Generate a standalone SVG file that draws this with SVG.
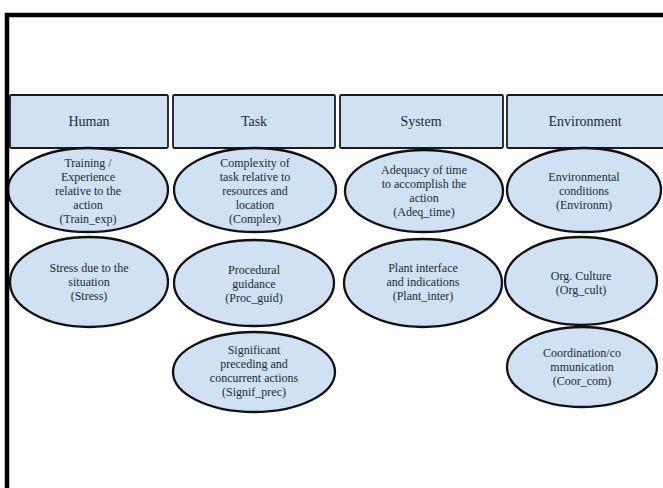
<svg xmlns="http://www.w3.org/2000/svg" width="663" height="488" viewBox="0 0 663 488">
<style>
.hdr{fill:#cfe1f2;stroke:#1a1a1a;stroke-width:1.8}
.el{fill:#cfe1f2;stroke:#111;stroke-width:2.3}
.ht{font-family:"Liberation Serif","Times New Roman",serif;font-size:14px;fill:#222a36;text-anchor:middle}
.t{font-family:"Liberation Serif","Times New Roman",serif;font-size:12px;fill:#222a36;text-anchor:middle}
</style>
<rect x="0" y="0" width="663" height="488" fill="#ffffff"/>
<g id="hdr-human"><rect class="hdr" x="10" y="95" width="158" height="53" rx="1.5"/><text class="ht" x="89" y="126">Human</text></g>
<g id="hdr-task"><rect class="hdr" x="173" y="95" width="162" height="53" rx="1.5"/><text class="ht" x="254" y="126">Task</text></g>
<g id="hdr-system"><rect class="hdr" x="340" y="95" width="163" height="53" rx="1.5"/><text class="ht" x="421" y="126">System</text></g>
<g id="hdr-environment"><rect class="hdr" x="507" y="95" width="170" height="53" rx="1.5"/><text class="ht" x="585" y="126">Environment</text></g>
<g id="connectors"></g>
<g id="train_exp"><ellipse class="el" cx="88" cy="190" rx="80" ry="42"/>
<text class="t" x="88" y="167">Training /</text><text class="t" x="88" y="181">Experience</text><text class="t" x="88" y="195">relative to the</text><text class="t" x="88" y="209">action</text><text class="t" x="88" y="223">(Train_exp)</text></g>
<g id="complex"><ellipse class="el" cx="255" cy="190" rx="81" ry="42"/>
<text class="t" x="255" y="167">Complexity of</text><text class="t" x="255" y="181">task relative to</text><text class="t" x="255" y="195">resources and</text><text class="t" x="255" y="209">location</text><text class="t" x="255" y="223">(Complex)</text></g>
<g id="adeq_time"><ellipse class="el" cx="424" cy="191" rx="79" ry="41"/>
<text class="t" x="424" y="174">Adequacy of time</text><text class="t" x="424" y="188">to accomplish the</text><text class="t" x="424" y="202">action</text><text class="t" x="424" y="216">(Adeq_time)</text></g>
<g id="environm"><ellipse class="el" cx="584" cy="190" rx="77" ry="42"/>
<text class="t" x="584" y="181">Environmental</text><text class="t" x="584" y="195">conditions</text><text class="t" x="584" y="209">(Environm)</text></g>
<g id="stress"><ellipse class="el" cx="89" cy="282" rx="79" ry="45"/>
<text class="t" x="89" y="272">Stress due to the</text><text class="t" x="89" y="286">situation</text><text class="t" x="89" y="300">(Stress)</text></g>
<g id="proc_guid"><ellipse class="el" cx="254" cy="283" rx="80" ry="43"/>
<text class="t" x="254" y="274">Procedural</text><text class="t" x="254" y="288">guidance</text><text class="t" x="254" y="302">(Proc_guid)</text></g>
<g id="plant_inter"><ellipse class="el" cx="423" cy="283" rx="79" ry="44"/>
<text class="t" x="423" y="272">Plant interface</text><text class="t" x="423" y="286">and indications</text><text class="t" x="423" y="300">(Plant_inter)</text></g>
<g id="org_cult"><ellipse class="el" cx="581" cy="281" rx="76" ry="44"/>
<text class="t" x="581" y="280">Org. Culture</text><text class="t" x="581" y="294">(Org_cult)</text></g>
<g id="signif_prec"><ellipse class="el" cx="254" cy="372" rx="81" ry="40"/>
<text class="t" x="254" y="354">Significant</text><text class="t" x="254" y="368">preceding and</text><text class="t" x="254" y="382">concurrent actions</text><text class="t" x="254" y="396">(Signif_prec)</text></g>
<g id="coor_com"><ellipse class="el" cx="582" cy="367" rx="75" ry="40"/>
<text class="t" x="582" y="357">Coordination/co</text><text class="t" x="582" y="371">mmunication</text><text class="t" x="582" y="385">(Coor_com)</text></g>
<g id="frame"><path d="M7,492 V15 H668" fill="none" stroke="#000" stroke-width="4.5"/></g>
</svg>
